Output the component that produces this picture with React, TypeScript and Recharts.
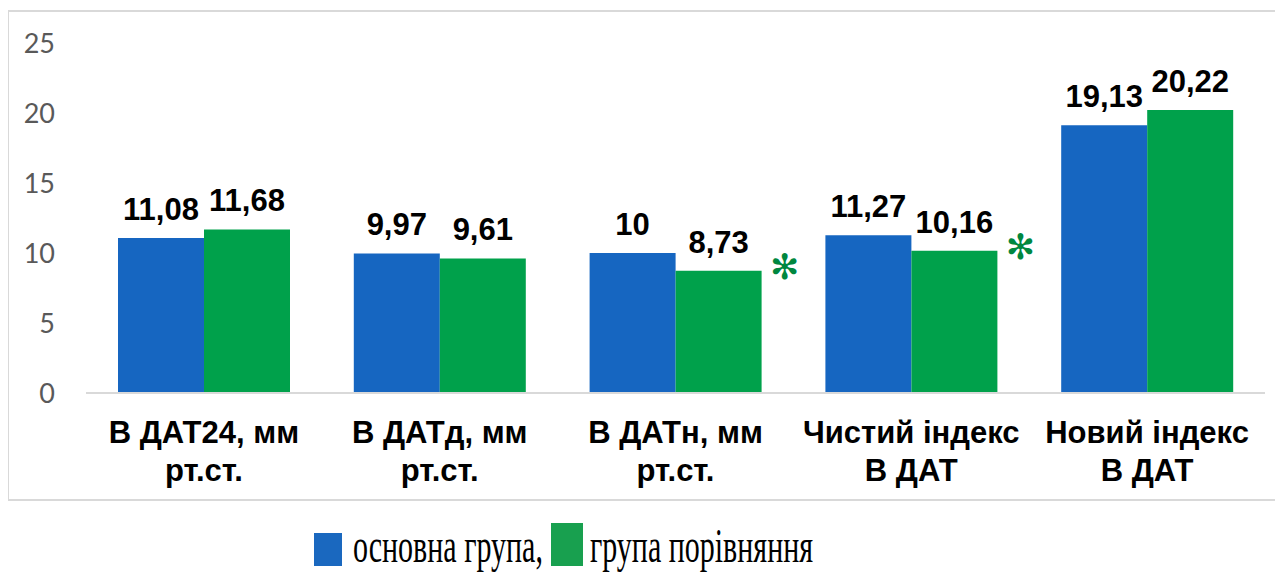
import React from 'react'
import { BarChart, Bar, XAxis, YAxis, Legend, LabelList } from 'recharts'

// категорії (по рядках підпису осі X)
const categories: string[][] = [
  ['В ДАТ24, мм', 'рт.ст.'],
  ['В ДАТд, мм', 'рт.ст.'],
  ['В ДАТн, мм', 'рт.ст.'],
  ['Чистий індекс', 'В ДАТ'],
  ['Новий індекс', 'В ДАТ'],
]
const mainGroup = [11.08, 9.97, 10, 11.27, 19.13]
const compareGroup = [11.68, 9.61, 8.73, 10.16, 20.22]
// достовірна різниця між групами
const significant = [false, false, true, true, false]
const yTicks = [0, 5, 10, 15, 20, 25]

const seriesNames = ['основна група,', 'група порівняння']

const BLUE = '#1666c1'
const GREEN = '#00a14b'

const data = categories.map((lines, i) => ({
  name: lines.join(' '),
  idx: i,
  main: mainGroup[i],
  compare: compareGroup[i],
}))

const fmt = (v: number) => String(v).replace('.', ',')

const CategoryTick = (props: any) => {
  const { x, y, payload } = props
  const lines = categories[payload.index] ?? [payload.value]
  return (
    <text
      x={x}
      y={y}
      textAnchor="middle"
      fill="#000"
      fontFamily="'Liberation Sans', Arial, sans-serif"
      fontWeight="bold"
      fontSize={31}
    >
      {lines.map((l, k) => (
        <tspan key={k} x={x} dy={k === 0 ? 42 : 38}>
          {l}
        </tspan>
      ))}
    </text>
  )
}

const Asterisk = (props: any) => {
  const { x, y, width, index } = props
  if (!significant[index]) return null
  return (
    <text
      x={x + width + 23}
      y={y + 8}
      textAnchor="middle"
      fill="#00873f"
      fontFamily="'DejaVu Sans', sans-serif"
      fontSize={35}
    >
      ✻
    </text>
  )
}

const LegendBox = () => (
  <div
    style={{
      height: 60,
      display: 'flex',
      justifyContent: 'flex-start',
      alignItems: 'flex-end',
      paddingLeft: 314,
      boxSizing: 'border-box',
      fontFamily: "'Liberation Serif', 'Times New Roman', serif",
      fontSize: 30,
      color: '#000',
    }}
  >
    {seriesNames.map((n, i) => (
      <div key={n} style={{ display: 'flex', alignItems: 'flex-end', marginRight: i === 0 ? 8 : 0 }}>
        <span
          style={{
            display: 'inline-block',
            width: i === 0 ? 28 : 32,
            height: i === 0 ? 33 : 43,
            background: i === 0 ? '#1a68bf' : '#18a04f',
            marginRight: i === 0 ? 11 : 7,
            marginBottom: 4,
          }}
        />
        <span style={{ display: 'inline-block', transform: 'scaleY(1.6)', transformOrigin: 'bottom', lineHeight: '30px' }}>
          {n}
        </span>
      </div>
    ))}
  </div>
)

export default function App() {
  return (
    <div style={{ position: 'relative', width: 1283, height: 574, margin: '-8px 0 0 -8px', background: '#fff', overflow: 'hidden' }}>
      <div
        style={{
          position: 'absolute',
          left: 7,
          top: 10,
          width: 1300,
          height: 491,
          border: '2px solid #d9d9d9',
          boxSizing: 'border-box',
        }}
      />
      <BarChart
        width={1283}
        height={574}
        data={data}
        margin={{ top: 43, right: 18, left: 0, bottom: 21 }}
        barCategoryGap={32}
        barGap={0}
        style={{ position: 'absolute', left: 0, top: 0 }}
      >
        <XAxis
          dataKey="name"
          height={100}
          tick={<CategoryTick />}
          tickLine={false}
          axisLine={{ stroke: '#d9d9d9', strokeWidth: 2 }}
          interval={0}
        />
        <YAxis
          width={86}
          domain={[0, 25]}
          ticks={yTicks}
          axisLine={false}
          tickLine={false}
          tickMargin={25}
          tick={{ fontSize: 27, fill: '#595959', fontFamily: 'Lato, sans-serif' }}
        />
        <Legend content={<LegendBox />} wrapperStyle={{ left: 0, width: 1283, top: 510 }} />
        <Bar dataKey="main" name={seriesNames[0]} fill={BLUE} isAnimationActive={false}>
          <LabelList
            dataKey="main"
            position="top"
            offset={18}
            formatter={(v: any) => fmt(v)}
            style={{ fontSize: 31, fontWeight: 'bold', fill: '#000', fontFamily: "'Liberation Sans', Arial, sans-serif" }}
          />
        </Bar>
        <Bar dataKey="compare" name={seriesNames[1]} fill={GREEN} isAnimationActive={false}>
          <LabelList
            dataKey="compare"
            position="top"
            offset={18}
            formatter={(v: any) => fmt(v)}
            style={{ fontSize: 31, fontWeight: 'bold', fill: '#000', fontFamily: "'Liberation Sans', Arial, sans-serif" }}
          />
          <LabelList dataKey="compare" content={<Asterisk />} />
        </Bar>
      </BarChart>
    </div>
  )
}
